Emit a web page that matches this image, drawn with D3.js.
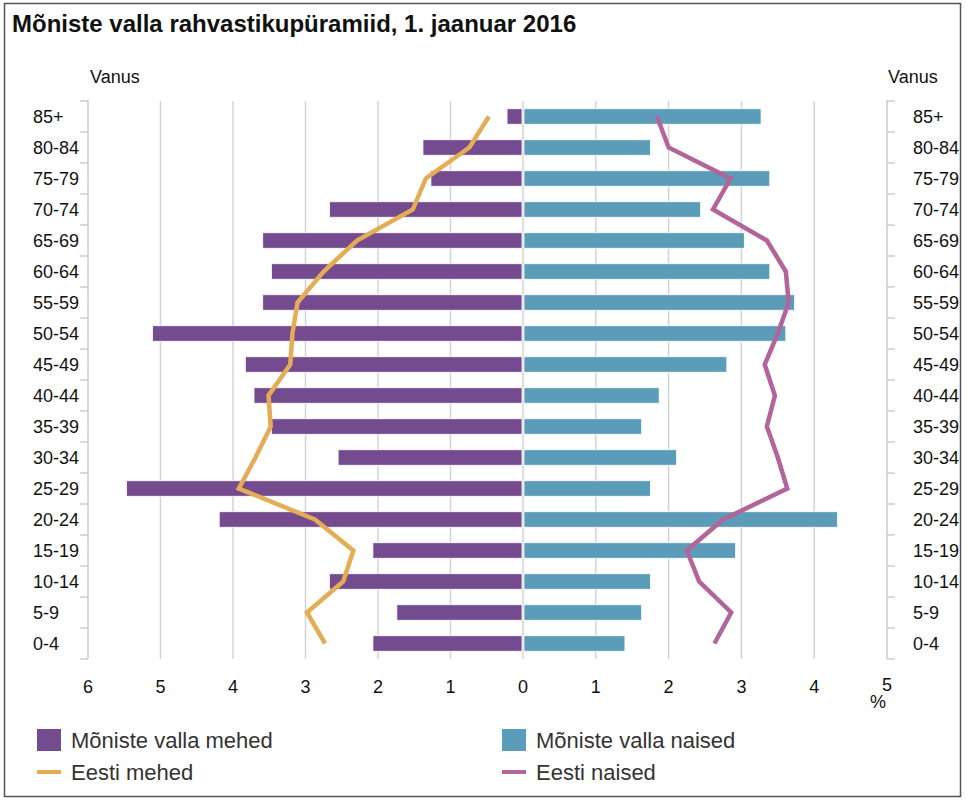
<!DOCTYPE html>
<html>
<head>
<meta charset="utf-8">
<script src="https://cdn.jsdelivr.net/npm/d3@7"></script>
<style>
  body { margin: 0; background: #fff; }
  svg { font-family: "Liberation Sans", Arial, sans-serif; }
</style>
</head>
<body>
<div id="canvas"></div>
<script>
// age groups, top to bottom
let ages = ["85+", "80-84", "75-79", "70-74", "65-69", "60-64", "55-59", "50-54", "45-49",
            "40-44", "35-39", "30-34", "25-29", "20-24", "15-19", "10-14", "5-9", "0-4"]

// Mõniste valla mehed / naised (%)
let menLocal   = [0.22, 1.38, 1.27, 2.67, 3.59, 3.47, 3.59, 5.11, 3.83, 3.71, 3.47, 2.55, 5.47, 4.19, 2.07, 2.67, 1.74, 2.07]
let womenLocal = [3.27, 1.75, 3.39, 2.44, 3.04, 3.39, 3.73, 3.61, 2.80, 1.87, 1.63, 2.11, 1.75, 4.32, 2.92, 1.75, 1.63, 1.40]

// Eesti mehed / naised (%)
let menEst   = [0.47, 0.74, 1.34, 1.52, 2.29, 2.75, 3.11, 3.18, 3.21, 3.51, 3.48, 3.69, 3.92, 2.87, 2.34, 2.48, 2.98, 2.73]
let womenEst = [1.84, 2.00, 2.85, 2.61, 3.35, 3.61, 3.65, 3.50, 3.32, 3.46, 3.35, 3.50, 3.63, 2.75, 2.25, 2.42, 2.86, 2.63]

let leftTicks = [6, 5, 4, 3, 2, 1, 0]
let rightTicks = [1, 2, 3, 4, 5]

let width = 966
let height = 801

let colMen = "#734b8e"
let colWomen = "#5b9cb8"
let colMenEst = "#e5ac56"
let colWomenEst = "#b3649a"

let svg = d3.select("#canvas").append("svg")
    .attr("width", width)
    .attr("height", height)

// frame
svg.append("rect")
    .attr("x", 4.5).attr("y", 3.5)
    .attr("width", 956).attr("height", 793)
    .attr("fill", "none")
    .attr("stroke", "#555")
    .attr("stroke-width", 1.5)

svg.append("text")
    .attr("x", 12).attr("y", 32)
    .attr("font-size", 24)
    .attr("font-weight", "bold")
    .attr("fill", "#111")
    .text("Mõniste valla rahvastikupüramiid, 1. jaanuar 2016")

// scales
let y = d3.scaleBand()
    .domain(ages)
    .range([101, 659])
    .paddingInner(0.5)
    .paddingOuter(0.25)

let xL = d3.scaleLinear().domain([0, 6]).range([523, 88])
let xR = d3.scaleLinear().domain([0, 5]).range([523, 887])

// gridlines
let grid = svg.append("g")
grid.selectAll("line.gl")
    .data(leftTicks.filter(d => d < 6))
    .enter().append("line")
    .attr("x1", d => xL(d)).attr("x2", d => xL(d))
    .attr("y1", 101).attr("y2", 659)
    .attr("stroke", "#d3d3d3").attr("stroke-width", 1.5)
grid.selectAll("line.gr")
    .data(rightTicks.filter(d => d < 5))
    .enter().append("line")
    .attr("x1", d => xR(d)).attr("x2", d => xR(d))
    .attr("y1", 101).attr("y2", 659)
    .attr("stroke", "#d3d3d3").attr("stroke-width", 1.5)

// side axes (ticks between bands)
let bounds = ages.map(a => y(a) - y.step() * y.paddingInner() / 2)
bounds.push(659)
let axL = svg.append("g")
axL.append("line")
    .attr("x1", xL(6)).attr("x2", xL(6)).attr("y1", 100).attr("y2", 659)
    .attr("stroke", "#ccc").attr("stroke-width", 1.5)
axL.selectAll("line.t").data(bounds).enter().append("line")
    .attr("x1", xL(6) - 8).attr("x2", xL(6))
    .attr("y1", d => d).attr("y2", d => d)
    .attr("stroke", "#ccc").attr("stroke-width", 1.5)
let axR = svg.append("g")
axR.append("line")
    .attr("x1", xR(5)).attr("x2", xR(5)).attr("y1", 100).attr("y2", 659)
    .attr("stroke", "#ccc").attr("stroke-width", 1.5)
axR.selectAll("line.t").data(bounds).enter().append("line")
    .attr("x1", xR(5)).attr("x2", xR(5) + 8)
    .attr("y1", d => d).attr("y2", d => d)
    .attr("stroke", "#ccc").attr("stroke-width", 1.5)

// age labels
svg.append("g").selectAll("text")
    .data(ages).enter().append("text")
    .attr("x", 33)
    .attr("y", d => y(d) + y.bandwidth() / 2 + 6)
    .attr("font-size", 18).attr("fill", "#111")
    .text(d => d)
svg.append("g").selectAll("text")
    .data(ages).enter().append("text")
    .attr("x", 913)
    .attr("y", d => y(d) + y.bandwidth() / 2 + 6)
    .attr("font-size", 18).attr("fill", "#111")
    .text(d => d)

svg.append("text").attr("x", 90).attr("y", 83).attr("font-size", 18).attr("fill", "#111").text("Vanus")
svg.append("text").attr("x", 888).attr("y", 83).attr("font-size", 18).attr("fill", "#111").text("Vanus")

// bars
svg.append("g").selectAll("rect")
    .data(ages).enter().append("rect")
    .attr("x", (d, i) => xL(menLocal[i]))
    .attr("y", d => y(d))
    .attr("width", (d, i) => xL(0) - xL(menLocal[i]) - 1)
    .attr("height", y.bandwidth())
    .attr("fill", colMen)
    .attr("stroke", "#fff").attr("stroke-width", 0.8)

svg.append("g").selectAll("rect")
    .data(ages).enter().append("rect")
    .attr("x", xR(0) + 1)
    .attr("y", d => y(d))
    .attr("width", (d, i) => xR(womenLocal[i]) - xR(0) - 1)
    .attr("height", y.bandwidth())
    .attr("fill", colWomen)
    .attr("stroke", "#fff").attr("stroke-width", 0.8)

// Eesti lines
let lineL = d3.line()
    .x(d => xL(d[1]))
    .y(d => y(d[0]) + y.bandwidth() / 2)
let lineR = d3.line()
    .x(d => xR(d[1]))
    .y(d => y(d[0]) + y.bandwidth() / 2)

svg.append("path")
    .datum(ages.map((a, i) => [a, menEst[i]]))
    .attr("d", lineL)
    .attr("fill", "none")
    .attr("stroke", colMenEst)
    .attr("stroke-width", 4.5)
    .attr("stroke-linejoin", "miter")

svg.append("path")
    .datum(ages.map((a, i) => [a, womenEst[i]]))
    .attr("d", lineR)
    .attr("fill", "none")
    .attr("stroke", colWomenEst)
    .attr("stroke-width", 4.5)
    .attr("stroke-linejoin", "miter")

// x tick labels
svg.append("g").selectAll("text")
    .data(leftTicks).enter().append("text")
    .attr("x", d => xL(d))
    .attr("y", 693)
    .attr("text-anchor", "middle")
    .attr("font-size", 18).attr("fill", "#111")
    .text(d => d)
svg.append("g").selectAll("text")
    .data(rightTicks).enter().append("text")
    .attr("x", d => xR(d))
    .attr("y", d => d === 5 ? 691 : 693)
    .attr("text-anchor", "middle")
    .attr("font-size", 18).attr("fill", "#111")
    .text(d => d)
svg.append("text")
    .attr("x", 878).attr("y", 708)
    .attr("text-anchor", "middle")
    .attr("font-size", 18).attr("fill", "#111")
    .text("%")

// legend
let legend = [
    {name: "Mõniste valla mehed", color: colMen, type: "box", x: 37, y: 740},
    {name: "Mõniste valla naised", color: colWomen, type: "box", x: 502, y: 740},
    {name: "Eesti mehed", color: colMenEst, type: "line", x: 37, y: 772},
    {name: "Eesti naised", color: colWomenEst, type: "line", x: 502, y: 772}
]
let lg = svg.append("g").selectAll("g")
    .data(legend).enter().append("g")
    .attr("transform", d => "translate(" + d.x + "," + d.y + ")")
lg.filter(d => d.type === "box").append("rect")
    .attr("x", 0).attr("y", -11)
    .attr("width", 24).attr("height", 22)
    .attr("fill", d => d.color)
lg.filter(d => d.type === "line").append("rect")
    .attr("x", 0).attr("y", -2)
    .attr("width", 24).attr("height", 4)
    .attr("fill", d => d.color)
lg.append("text")
    .attr("x", 34).attr("y", 8)
    .attr("font-size", 22).attr("fill", "#333")
    .text(d => d.name)
</script>
</body>
</html>
